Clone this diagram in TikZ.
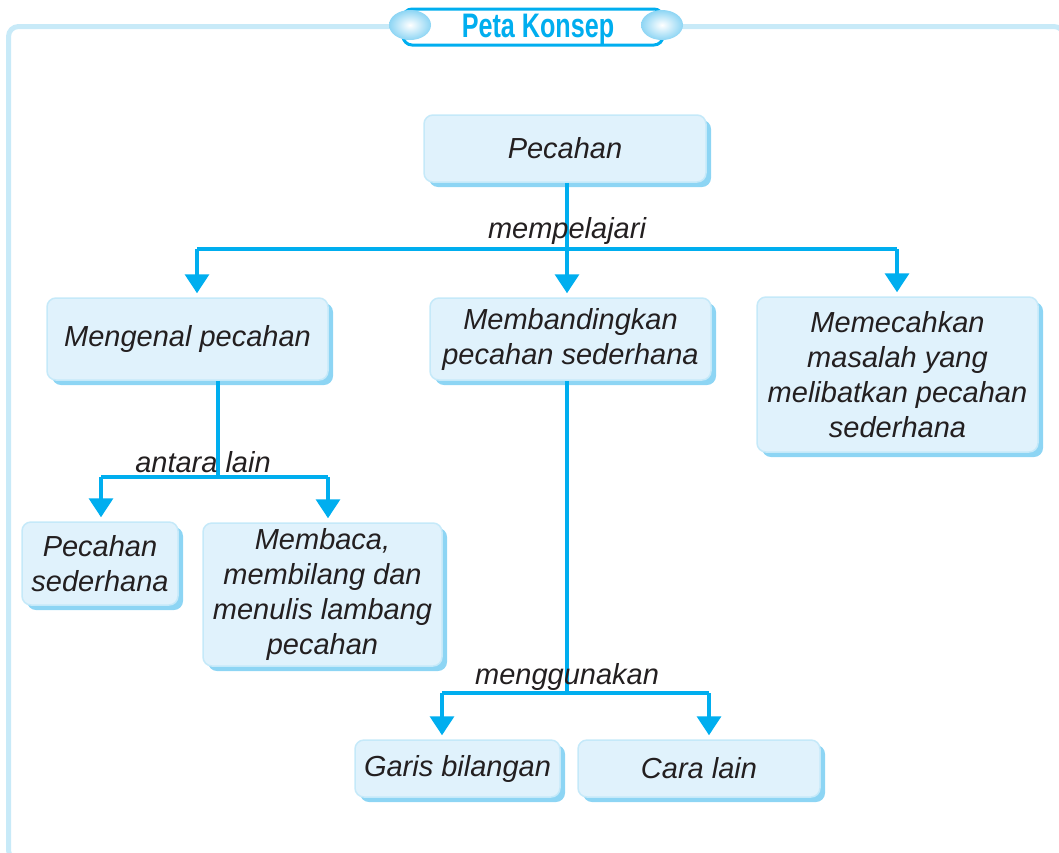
\documentclass[tikz,border=0pt]{standalone}
\usepackage{fontspec}
\setmainfont{Liberation Sans}
\newfontfamily\titlefont[FakeStretch=0.74]{Liberation Sans Bold}
\usetikzlibrary{arrows.meta,shadows}
\definecolor{petablue}{RGB}{0,174,239}
\definecolor{boxfill}{RGB}{224,242,252}
\definecolor{boxline}{RGB}{197,233,249}
\definecolor{boxshadow}{RGB}{141,213,244}
\definecolor{framecol}{RGB}{200,234,248}
\definecolor{textgray}{RGB}{35,31,32}

\tikzset{
  konsep/.style={draw=boxline,line width=1.5pt,fill=boxfill,rounded corners=9pt,
    text=textgray,align=center,inner sep=0pt,
    font=\fontsize{29}{35}\selectfont\itshape,
    drop shadow={shadow xshift=5pt,shadow yshift=-5pt,fill=boxshadow,opacity=1}},
  garis/.style={draw=petablue,line width=3.5pt},
  panah/.style={garis,-{Triangle[width=24pt,length=19pt]},shorten >=4pt},
  ket/.style={text=textgray,font=\fontsize{29}{35}\selectfont\itshape,anchor=center}
}

\begin{document}
\begin{tikzpicture}[x=1pt,y=-1pt]
\useasboundingbox (0,0) rectangle (1059,852);
\clip (0,0) rectangle (1059,852);

% bingkai dan judul
\draw[framecol,line width=5pt,rounded corners=10pt] (8.5,26.5) rectangle (1064,860);
\draw[petablue,line width=3pt,fill=white,rounded corners=9pt] (403,9) rectangle (663,45);
\shade[inner color=white,outer color=boxshadow] (410,25) ellipse (21 and 15);
\shade[inner color=white,outer color=boxshadow] (662,25) ellipse (21 and 15);
\node[text=petablue,font=\fontsize{34}{34}\selectfont\titlefont,anchor=center] (judul) at (538,29) {Peta Konsep};

% kotak konsep
\node[konsep,minimum width=282,minimum height=67] (pecahan) at (565,148.5) {Pecahan};
\node[konsep,minimum width=281,minimum height=82] (mengenal) at (187.5,339) {Mengenal pecahan};
\node[konsep,minimum width=281,minimum height=82] (banding) at (570.5,339) {Membandingkan\\pecahan sederhana};
\node[konsep,minimum width=281,minimum height=155] (pecahkan) at (897.5,374.5) {Memecahkan\\masalah yang\\melibatkan pecahan\\sederhana};
\node[konsep,minimum width=156,minimum height=83] (sederhana) at (100,563.5) {Pecahan\\sederhana};
\node[konsep,minimum width=239,minimum height=143] (membaca) at (322.5,594.5) {Membaca,\\membilang dan\\menulis lambang\\pecahan};
\node[konsep,minimum width=205,minimum height=57] (bilangan) at (457.5,768.5) {Garis bilangan};
\node[konsep,minimum width=242,minimum height=57] (lain) at (699,768.5) {Cara lain};

% cabang
\coordinate (c1) at (567,249);
\coordinate (c1a) at (197,249);
\coordinate (c1b) at (897,249);
\coordinate (c2) at (218,477);
\coordinate (c2a) at (101,477);
\coordinate (c2b) at (328,477);
\coordinate (c3) at (567,693);
\coordinate (c3a) at (442,693);
\coordinate (c3b) at (709,693);

\draw[garis] (pecahan.south -| c1) -- (c1);
\draw[garis] (c1a) -- (c1b);
\draw[panah] (c1a) -- (c1a |- mengenal.north);
\draw[panah] (c1) -- (c1 |- banding.north);
\draw[panah] (c1b) -- (c1b |- pecahkan.north);

\draw[garis] (mengenal.south -| c2) -- (c2);
\draw[garis] (c2a) -- (c2b);
\draw[panah] (c2a) -- (c2a |- sederhana.north);
\draw[panah] (c2b) -- (c2b |- membaca.north);

\draw[garis] (banding.south -| c3) -- (c3);
\draw[garis] (c3a) -- (c3b);
\draw[panah] (c3a) -- (c3a |- bilangan.north);
\draw[panah] (c3b) -- (c3b |- lain.north);

% keterangan
\node[ket] (pelajari) at (567,231) {mempelajari};
\node[ket] (antara) at (203,462) {antara lain};
\node[ket] (guna) at (567,677) {menggunakan};

\end{tikzpicture}
\end{document}
